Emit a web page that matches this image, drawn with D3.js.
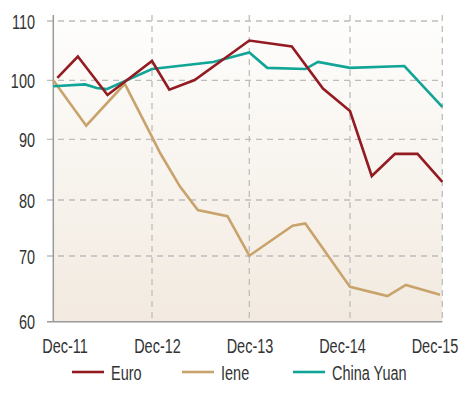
<!DOCTYPE html>
<html><head><meta charset="utf-8">
<script src="https://cdn.jsdelivr.net/npm/d3@7"></script>
<style>
body{margin:0;background:#fff;}
text{font-family:"Liberation Sans",Arial,sans-serif;fill:#333333;}
</style></head>
<body><svg id="c" width="465" height="410"></svg>
<script>
const xTickLabels = ["Dec-11","Dec-12","Dec-13","Dec-14","Dec-15"];
const xTickDates = ["2011-12-01","2012-12-01","2013-12-01","2014-12-01","2015-12-01"];
const yTicks = [60,70,80,90,100,110];
const seriesNames = ["Euro","Iene","China Yuan"];
const seriesColors = ["#931b22","#c9a36c","#10a596"];

const euroDates = ["2011-12-16","2012-03-01","2012-06-19","2012-12-01","2013-02-04","2013-05-10","2013-12-01","2014-05-04","2014-08-25","2014-12-01","2015-02-25","2015-05-28","2015-08-25","2015-12-01"];
const euroValues = [100.4,104.0,97.5,103.25,98.4,100.05,106.7,105.7,98.6,94.8,83.95,87.6,87.6,83.0];

const ieneDates = ["2011-12-01","2012-04-01","2012-08-22","2012-12-01","2013-01-01","2013-03-16","2013-05-22","2013-09-10","2013-12-01","2014-05-07","2014-06-22","2014-12-01","2015-04-28","2015-07-10","2015-11-22"];
const ieneValues = [100,92.3,99.4,90.4,87.7,82.2,78.2,77.1,70.05,75.4,75.8,65.3,63.9,65.6,64.1];

const yuanDates = ["2011-12-01","2012-03-28","2012-05-10","2012-06-16","2012-12-01","2013-07-19","2013-12-01","2014-02-04","2014-06-22","2014-08-07","2014-12-01","2015-07-04","2015-12-01"];
const yuanValues = [99.0,99.3,98.7,98.5,101.9,103.1,104.7,102.1,101.9,103.1,102.1,102.4,95.5];

(function(){
const parse = d3.timeParse("%Y-%m-%d");
const svg = d3.select("#c");
const SX = 0.69, FS = 21;

const x = d3.scaleTime().domain(xTickDates.map(parse)).range([53.3,152,249.3,350,442.3]);
const y = d3.scaleLinear().domain(yTicks).range([321.7,256,200,139.3,80.3,21]);
const xLab = d3.scalePoint().domain(xTickLabels).range([65,435]);

const pLeft = 53.3, pRight = 442.3, pTop = 15, pBottom = 321.7;

const defs = svg.append("defs");
const g = defs.append("linearGradient").attr("id","bg").attr("x1",0).attr("y1",0).attr("x2",0).attr("y2",1);
g.append("stop").attr("offset","0%").attr("stop-color","#fefefd");
g.append("stop").attr("offset","100%").attr("stop-color","#f2eae0");
svg.append("rect").attr("x",pLeft).attr("y",pTop).attr("width",pRight-pLeft).attr("height",pBottom-pTop).attr("fill","url(#bg)");

svg.append("g").selectAll("line").data(yTicks.filter(v=>v>60)).join("line")
  .attr("x1",47).attr("x2",pRight).attr("y1",d=>y(d)).attr("y2",d=>y(d))
  .attr("stroke","#bdbdbd").attr("stroke-width",1.3).attr("stroke-dasharray","6,5");
svg.append("g").selectAll("line").data(xTickDates.slice(1)).join("line")
  .attr("x1",d=>x(parse(d))).attr("x2",d=>x(parse(d))).attr("y1",pTop).attr("y2",pBottom)
  .attr("stroke","#bdbdbd").attr("stroke-width",1.3).attr("stroke-dasharray","6,5");

svg.append("line").attr("x1",pLeft).attr("x2",pLeft).attr("y1",pTop).attr("y2",pBottom).attr("stroke","#9a9a9a").attr("stroke-width",1.5);
svg.append("line").attr("x1",47).attr("x2",pRight).attr("y1",pBottom).attr("y2",pBottom).attr("stroke","#9a9a9a").attr("stroke-width",1.5);

svg.append("g").selectAll("g").data(yTicks).join("g")
  .attr("transform",d=>`translate(35,${y(d)}) scale(${SX},1)`)
  .append("text").attr("dy","0.36em").attr("text-anchor","end")
  .attr("font-size",FS).text(d=>d);
svg.append("g").selectAll("g").data(xTickLabels).join("g")
  .attr("transform",d=>`translate(${xLab(d)},353) scale(${SX},1)`)
  .append("text").attr("text-anchor","middle")
  .attr("font-size",FS).text(d=>d);

const series = [
  {name:seriesNames[0], color:seriesColors[0], pts:euroDates.map((d,i)=>[parse(d),euroValues[i]])},
  {name:seriesNames[1], color:seriesColors[1], pts:ieneDates.map((d,i)=>[parse(d),ieneValues[i]])},
  {name:seriesNames[2], color:seriesColors[2], pts:yuanDates.map((d,i)=>[parse(d),yuanValues[i]])}
];
const line = d3.line().x(d=>x(d[0])).y(d=>y(d[1]));
const drawOrder = [1,2,0];
svg.append("g").selectAll("path").data(drawOrder.map(i=>series[i])).join("path")
  .attr("d",d=>line(d.pts)).attr("fill","none").attr("stroke",d=>d.color)
  .attr("stroke-width",2.6).attr("stroke-linejoin","miter");

const legX = [72,182,293];
const lg = svg.append("g").selectAll("g").data(series).join("g")
  .attr("transform",(d,i)=>`translate(${legX[i]},372)`);
lg.append("line").attr("x1",0).attr("x2",32).attr("y1",0).attr("y2",0).attr("stroke",d=>d.color).attr("stroke-width",2.6);
lg.append("g").attr("transform",`translate(39,0) scale(${SX},1)`)
  .append("text").attr("dy","0.36em").attr("font-size",FS).text(d=>d.name);
})();
</script>
</body></html>
